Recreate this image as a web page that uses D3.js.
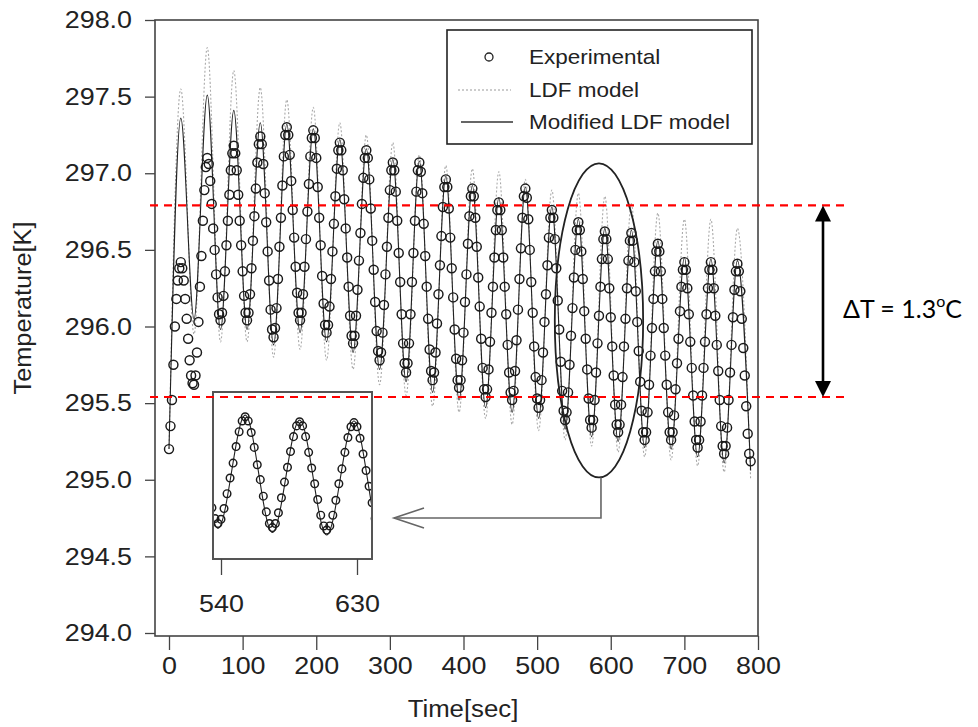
<!DOCTYPE html>
<html>
  <head>
    <meta charset="utf-8">
    <style>
      body { margin: 0; background: #fff; }
      svg text { font-family: "Liberation Sans", Arial, sans-serif; fill: #222; }
      .tick line { stroke: #444; stroke-width: 1.3; }
    </style>
    <title>Temperature vs time</title>
  </head>
  <body>
  <div id="viz-wrapper"></div>
  <script src="https://cdnjs.cloudflare.com/ajax/libs/d3/7.8.5/d3.min.js" charset="utf-8"></script>
  <script type="text/javascript">

    var width = 978;
    var height = 727;

    // ticks
    var xTicks = [0, 100, 200, 300, 400, 500, 600, 700, 800];
    var yTicks = [294.0, 294.5, 295.0, 295.5, 296.0, 296.5, 297.0, 297.5, 298.0];
    var insetTicks = [540, 630];

    // experimental temperature, one reading every 2 s from t = 0 (one row per cycle)
    var expT0 = 0, expStep = 2;
    var expTemp = [
      295.20, 295.35, 295.52, 295.75, 296.00, 296.18, 296.30, 296.38, 296.42, 296.38, 296.30, 296.18, 296.05, 295.92, 295.78, 295.68, 295.63, 295.62, 295.68, 295.83, 296.03, 296.26, 296.46, 296.69, 296.89, 297.04,
      297.10, 297.06, 296.95, 296.80, 296.64, 296.50, 296.34, 296.19, 296.08, 296.04, 296.09, 296.20, 296.36, 296.53, 296.69, 296.86, 297.02, 297.13,
      297.18, 297.13, 297.02, 296.86, 296.69, 296.53, 296.36, 296.20, 296.09, 296.04, 296.09, 296.21, 296.38, 296.56, 296.72, 296.90, 297.07, 297.19,
      297.24, 297.19, 297.06, 296.87, 296.68, 296.49, 296.30, 296.11, 295.98, 295.93, 295.99, 296.12, 296.31, 296.52, 296.71, 296.92, 297.11, 297.25,
      297.30, 297.25, 297.12, 296.95, 296.76, 296.58, 296.39, 296.22, 296.09, 296.04, 296.09, 296.21, 296.39, 296.57, 296.75, 296.93, 297.11, 297.23,
      297.28, 297.23, 297.10, 296.91, 296.71, 296.53, 296.33, 296.15, 296.01, 295.96, 296.01, 296.13, 296.31, 296.49, 296.67, 296.85, 297.03, 297.15,
      297.20, 297.15, 297.02, 296.83, 296.64, 296.45, 296.26, 296.07, 295.94, 295.89, 295.94, 296.07, 296.24, 296.43, 296.61, 296.80, 296.97, 297.10,
      297.15, 297.10, 296.96, 296.77, 296.56, 296.37, 296.16, 295.97, 295.84, 295.78, 295.83, 295.96, 296.14, 296.34, 296.52, 296.71, 296.89, 297.02,
      297.07, 297.02, 296.88, 296.69, 296.48, 296.29, 296.08, 295.89, 295.76, 295.70, 295.76, 295.89, 296.08, 296.29, 296.48, 296.69, 296.88, 297.02,
      297.07, 297.01, 296.87, 296.67, 296.46, 296.26, 296.05, 295.85, 295.71, 295.65, 295.70, 295.83, 296.02, 296.21, 296.40, 296.59, 296.78, 296.91,
      296.96, 296.91, 296.77, 296.58, 296.38, 296.19, 295.98, 295.79, 295.65, 295.60, 295.65, 295.78, 295.96, 296.16, 296.34, 296.54, 296.72, 296.85,
      296.90, 296.85, 296.71, 296.52, 296.32, 296.13, 295.92, 295.73, 295.59, 295.54, 295.59, 295.72, 295.90, 296.09, 296.26, 296.45, 296.63, 296.76,
      296.81, 296.76, 296.63, 296.45, 296.26, 296.08, 295.88, 295.70, 295.57, 295.52, 295.58, 295.71, 295.91, 296.11, 296.31, 296.51, 296.71, 296.85,
      296.90, 296.84, 296.70, 296.50, 296.29, 296.09, 295.87, 295.67, 295.53, 295.47, 295.52, 295.65, 295.83, 296.03, 296.21, 296.40, 296.58, 296.71,
      296.76, 296.71, 296.57, 296.38, 296.17, 295.98, 295.77, 295.58, 295.45, 295.39, 295.44, 295.57, 295.75, 295.94, 296.12, 296.32, 296.50, 296.63,
      296.68, 296.63, 296.49, 296.31, 296.10, 295.92, 295.72, 295.53, 295.39, 295.34, 295.39, 295.52, 295.70, 295.89, 296.07, 296.26, 296.44, 296.57,
      296.62, 296.57, 296.44, 296.25, 296.06, 295.87, 295.68, 295.49, 295.36, 295.31, 295.36, 295.49, 295.67, 295.87, 296.05, 296.25, 296.43, 296.56,
      296.61, 296.56, 296.42, 296.23, 296.03, 295.84, 295.64, 295.45, 295.31, 295.26, 295.31, 295.44, 295.62, 295.81, 295.99, 296.18, 296.36, 296.49,
      296.54, 296.49, 296.36, 296.18, 295.99, 295.81, 295.62, 295.44, 295.31, 295.26, 295.31, 295.42, 295.59, 295.76, 295.92, 296.10, 296.26, 296.37,
      296.42, 296.37, 296.25, 296.08, 295.90, 295.73, 295.55, 295.38, 295.26, 295.21, 295.26, 295.38, 295.55, 295.73, 295.90, 296.08, 296.25, 296.37,
      296.42, 296.37, 296.25, 296.07, 295.88, 295.71, 295.52, 295.35, 295.22, 295.17, 295.22, 295.34, 295.52, 295.70, 295.88, 296.06, 296.24, 296.36,
      296.41, 296.36, 296.23, 296.05, 295.86, 295.68, 295.48, 295.30, 295.17, 295.12
    ];

    // model curves: start value, then peak / trough per cycle
    var modelStart = [0, 295.20];
    var peakTime   = [16, 52, 88, 124, 160, 196, 232, 268, 304, 340, 376, 412, 448, 484, 520, 556, 592, 628, 664, 700, 736, 772];
    var troughTime = [34, 70, 106, 142, 178, 214, 250, 286, 322, 358, 394, 430, 466, 502, 538, 574, 610, 646, 682, 718, 754, 790];
    var modPeak   = [297.36, 297.51, 297.41, 297.33, 297.32, 297.29, 297.22, 297.16, 297.09, 297.08, 296.98, 296.92, 296.84, 296.91, 296.78, 296.70, 296.64, 296.63, 296.56, 296.45, 296.44, 296.43];
    var modTrough = [296.05, 295.98, 295.98, 295.88, 295.96, 295.90, 295.83, 295.72, 295.64, 295.57, 295.52, 295.47, 295.44, 295.40, 295.33, 295.28, 295.25, 295.21, 295.20, 295.15, 295.11, 295.06];
    var ldfPeak   = [297.55, 297.82, 297.67, 297.56, 297.48, 297.43, 297.33, 297.25, 297.20, 297.12, 297.05, 297.03, 297.01, 296.96, 296.89, 296.87, 296.85, 296.80, 296.74, 296.70, 296.70, 296.64];
    var ldfTrough = [295.95, 295.90, 295.90, 295.80, 295.85, 295.78, 295.72, 295.62, 295.55, 295.48, 295.44, 295.40, 295.36, 295.32, 295.26, 295.22, 295.18, 295.15, 295.13, 295.09, 295.05, 295.00];

    // annotation: band levels and zoom ellipse (data units)
    var bandLevels = [296.79, 295.54];
    var ellipseCenter = [584, 296.04], ellipseRadius = [60, 1.025];

    var legendLabels = ['Experimental', 'LDF model', 'Modified LDF model'];

    var plot = {left: 155, right: 758, top: 20, bottom: 636};

    var x = d3.scaleLinear().domain([0, 800]).range([169, 758]);
    var y = d3.scaleLinear().domain([294, 298]).range([633, 20]);

    var svg = d3.select('#viz-wrapper').append('svg')
                .attr('width', width)
                .attr('height', height);

    // the scanned figure's lettering is a bit wider than Arial
    function widen(sel, k) {
      sel.each(function() {
        var w = this.getComputedTextLength();
        d3.select(this).attr('textLength', w * k).attr('lengthAdjust', 'spacingAndGlyphs');
      });
    }

    svg.append('clipPath').attr('id', 'plotclip')
       .append('rect')
       .attr('x', plot.left).attr('y', plot.top)
       .attr('width', plot.right - plot.left).attr('height', plot.bottom - plot.top);

    var expData = expTemp.map(function(v, i) { return [expT0 + i * expStep, v]; });

    function extremes(peaks, troughs) {
      var pts = [modelStart];
      peaks.forEach(function(p, i) {
        pts.push([peakTime[i], p]);
        pts.push([troughTime[i], troughs[i]]);
      });
      return pts;
    }
    var modData = extremes(modPeak, modTrough);
    var ldfData = extremes(ldfPeak, ldfTrough);

    function drawSeries(g, sx, sy, r, withLdf) {
      var line = d3.line()
                   .x(function(d) { return sx(d[0]); })
                   .y(function(d) { return sy(d[1]); })
                   .curve(d3.curveMonotoneX);
      if (withLdf) {
        g.append('path').datum(ldfData)
         .attr('d', line)
         .style('fill', 'none').style('stroke', '#aaa')
         .style('stroke-width', 1.1).style('stroke-dasharray', '2,2');
      }
      g.append('path').datum(modData)
       .attr('d', line)
       .style('fill', 'none').style('stroke', '#222')
       .style('stroke-width', 1.1);
      g.selectAll('circle').data(expData).enter().append('circle')
       .attr('cx', function(d) { return sx(d[0]); })
       .attr('cy', function(d) { return sy(d[1]); })
       .attr('r', r)
       .style('fill', 'none').style('stroke', '#1a1a1a').style('stroke-width', 1.45);
    }

    var main = svg.append('g').attr('clip-path', 'url(#plotclip)');
    drawSeries(main, x, y, 4.5, true);

    // frame
    svg.append('rect')
       .attr('x', plot.left).attr('y', plot.top)
       .attr('width', plot.right - plot.left).attr('height', plot.bottom - plot.top)
       .style('fill', 'none').style('stroke', '#444').style('stroke-width', 1.6);

    // axes
    var yAxis = svg.append('g')
       .attr('transform', 'translate(' + plot.left + ',0)')
       .call(d3.axisLeft(y).tickValues(yTicks).tickFormat(d3.format('.1f')).tickSize(10).tickPadding(13));
    var xAxis = svg.append('g')
       .attr('transform', 'translate(0,' + plot.bottom + ')')
       .call(d3.axisBottom(x).tickValues(xTicks).tickSize(14).tickPadding(7));
    [xAxis, yAxis].forEach(function(a) {
      a.select('.domain').remove();
      a.selectAll('text').style('font-size', '24px').style('fill', '#222');
      widen(a.selectAll('text'), 1.12);
    });

    var yTitle = svg.append('text')
       .attr('transform', 'translate(31,308) rotate(-90)')
       .attr('text-anchor', 'middle')
       .style('font-size', '23px')
       .text('Temperature[K]');
    var xTitle = svg.append('text')
       .attr('x', 463).attr('y', 717)
       .attr('text-anchor', 'middle')
       .style('font-size', '23px')
       .text('Time[sec]');
    widen(yTitle, 1.1);
    widen(xTitle, 1.12);

    // legend
    var lg = svg.append('g');
    lg.append('rect').attr('x', 447).attr('y', 30).attr('width', 305).attr('height', 114)
      .style('fill', '#fff').style('stroke', '#222').style('stroke-width', 1.6);
    var rows = [57, 90, 122];
    lg.append('circle').attr('cx', 489).attr('cy', rows[0]).attr('r', 4)
      .style('fill', 'none').style('stroke', '#222').style('stroke-width', 1.3);
    lg.append('line').attr('x1', 458).attr('x2', 511).attr('y1', rows[1]).attr('y2', rows[1])
      .style('stroke', '#999').style('stroke-width', 1.1).style('stroke-dasharray', '2,2');
    lg.append('line').attr('x1', 461).attr('x2', 513).attr('y1', rows[2]).attr('y2', rows[2])
      .style('stroke', '#333').style('stroke-width', 1.6);
    var lt = lg.selectAll('text.lab').data(legendLabels).enter().append('text')
      .attr('class', 'lab')
      .attr('x', 529)
      .attr('y', function(d, i) { return rows[i] + 7; })
      .style('font-size', '21px')
      .text(function(d) { return d; });
    widen(lt, 1.07);

    // zoom ellipse
    var ex = x(ellipseCenter[0]), ey = y(ellipseCenter[1]);
    var erx = x(ellipseCenter[0] + ellipseRadius[0]) - ex;
    var ery = y(ellipseCenter[1] - ellipseRadius[1]) - ey;
    svg.append('ellipse')
       .attr('cx', ex).attr('cy', ey).attr('rx', erx).attr('ry', ery)
       .style('fill', 'none').style('stroke', '#222').style('stroke-width', 1.8);

    // inset
    var inset = {left: 213, right: 372, top: 392, bottom: 559};
    var ix = d3.scaleLinear().domain([540, 630]).range([221, 357]);
    var iy = d3.scaleLinear().domain([294.96, 296.98]).range([inset.bottom, inset.top]);
    svg.append('clipPath').attr('id', 'insetclip')
       .append('rect')
       .attr('x', inset.left).attr('y', inset.top)
       .attr('width', inset.right - inset.left).attr('height', inset.bottom - inset.top);
    svg.append('rect')
       .attr('x', inset.left).attr('y', inset.top)
       .attr('width', inset.right - inset.left).attr('height', inset.bottom - inset.top)
       .style('fill', '#fff');
    var ig = svg.append('g').attr('clip-path', 'url(#insetclip)');
    drawSeries(ig, ix, iy, 3.8, false);
    svg.append('rect')
       .attr('x', inset.left).attr('y', inset.top)
       .attr('width', inset.right - inset.left).attr('height', inset.bottom - inset.top)
       .style('fill', 'none').style('stroke', '#555').style('stroke-width', 2);
    var iAxis = svg.append('g')
       .attr('transform', 'translate(0,' + inset.bottom + ')')
       .call(d3.axisBottom(ix).tickValues(insetTicks).tickSize(16).tickPadding(20));
    iAxis.select('.domain').remove();
    iAxis.selectAll('text').style('font-size', '24px').style('fill', '#222');
    widen(iAxis.selectAll('text'), 1.12);

    // connector from ellipse to inset
    var cy = 518;
    svg.append('path')
       .attr('d', 'M' + (ex + 2) + ',' + (ey + ery) + 'V' + cy + 'H' + (inset.right + 22))
       .style('fill', 'none').style('stroke', '#666').style('stroke-width', 1.6);
    svg.append('path')
       .attr('d', 'M' + (inset.right + 52) + ',' + (cy - 10) + 'L' + (inset.right + 22) + ',' + cy + 'L' + (inset.right + 52) + ',' + (cy + 10))
       .style('fill', 'none').style('stroke', '#666').style('stroke-width', 1.6);

    // band annotation
    svg.selectAll('line.band').data(bandLevels).enter().append('line')
       .attr('class', 'band')
       .attr('x1', 150).attr('x2', 850)
       .attr('y1', function(d) { return y(d); })
       .attr('y2', function(d) { return y(d); })
       .style('stroke', '#ff0000').style('stroke-width', 2.2).style('stroke-dasharray', '8,6');

    var ax = 823, ay1 = y(bandLevels[0]), ay2 = y(bandLevels[1]);
    svg.append('line').attr('x1', ax).attr('x2', ax).attr('y1', ay1 + 12).attr('y2', ay2 - 12)
       .style('stroke', '#000').style('stroke-width', 2.6);
    svg.append('path')
       .attr('d', 'M' + ax + ',' + ay1 + 'L' + (ax - 8) + ',' + (ay1 + 16) + 'L' + (ax + 8) + ',' + (ay1 + 16) + 'Z')
       .style('fill', '#000');
    svg.append('path')
       .attr('d', 'M' + ax + ',' + ay2 + 'L' + (ax - 8) + ',' + (ay2 - 16) + 'L' + (ax + 8) + ',' + (ay2 - 16) + 'Z')
       .style('fill', '#000');

    var dt = svg.append('text')
       .attr('x', 843).attr('y', 318)
       .style('font-family', 'Lato, "Open Sans", sans-serif')
       .style('font-size', '25px')
       .style('fill', '#000');
    dt.append('tspan').text('\u0394T = 1.3');
    dt.append('tspan').attr('dy', -11).style('font-size', '16px').text('o');
    dt.append('tspan').attr('dy', 11).text('C');

  </script>
  </body>
</html>
